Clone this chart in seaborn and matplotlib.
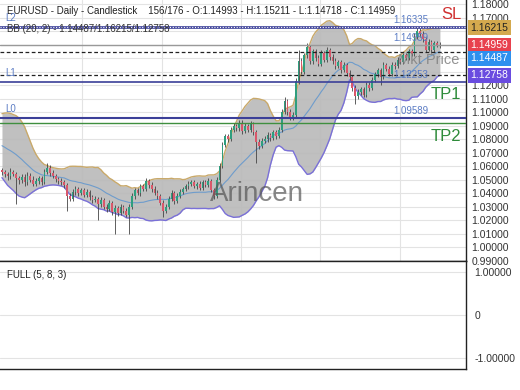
import matplotlib
matplotlib.use("Agg")
import matplotlib.pyplot as plt
import matplotlib.transforms as mtransforms
import seaborn as sns
import numpy as np
import pandas as pd

# closes before the visible window, only used to warm up the Bollinger bands
warmup_close = [1.0780, 1.0800, 1.0790, 1.0820, 1.0810, 1.0850, 1.0880, 1.0900, 1.0920, 1.0890,
                1.0850, 1.0780, 1.0720, 1.0680, 1.0650, 1.0620, 1.0600, 1.0580, 1.0560]

open_ = [1.0570, 1.0555, 1.0540, 1.0525, 1.0560, 1.0545, 1.0510, 1.0495, 1.0520, 1.0480,
         1.0530, 1.0500, 1.0470, 1.0490, 1.0510, 1.0480, 1.0560, 1.0590, 1.0550, 1.0530,
         1.0505, 1.0490, 1.0480, 1.0460, 1.0380, 1.0360, 1.0410, 1.0430, 1.0400, 1.0420,
         1.0390, 1.0410, 1.0370, 1.0350, 1.0360, 1.0320, 1.0350, 1.0300, 1.0280, 1.0330,
         1.0260, 1.0290, 1.0250, 1.0300, 1.0270, 1.0240, 1.0300, 1.0380, 1.0420, 1.0400,
         1.0450, 1.0430, 1.0490, 1.0460, 1.0430, 1.0400, 1.0380, 1.0330, 1.0270, 1.0300,
         1.0360, 1.0400, 1.0340, 1.0380, 1.0410, 1.0430, 1.0450, 1.0470, 1.0480, 1.0450,
         1.0470, 1.0440, 1.0480, 1.0460, 1.0490, 1.0420, 1.0380, 1.0500, 1.0600, 1.0760,
         1.0820, 1.0800, 1.0870, 1.0900, 1.0880, 1.0920, 1.0860, 1.0900, 1.0870, 1.0910,
         1.0850, 1.0780, 1.0750, 1.0790, 1.0800, 1.0830, 1.0810, 1.0850, 1.0820, 1.0870,
         1.1000, 1.1080, 1.1000, 1.0960, 1.0980, 1.1230, 1.1380, 1.1300, 1.1420, 1.1480,
         1.1380, 1.1450, 1.1400, 1.1360, 1.1440, 1.1390, 1.1460, 1.1410, 1.1380, 1.1340,
         1.1370, 1.1310, 1.1350, 1.1290, 1.1260, 1.1180, 1.1120, 1.1150, 1.1170, 1.1130,
         1.1200, 1.1180, 1.1240, 1.1280, 1.1310, 1.1260, 1.1350, 1.1320, 1.1280, 1.1350,
         1.1340, 1.1390, 1.1370, 1.1420, 1.1400, 1.1450, 1.1430, 1.1560, 1.1600, 1.1580,
         1.1540, 1.1460, 1.1520, 1.1460, 1.1510, 1.14993]

close = [1.0555, 1.0540, 1.0525, 1.0560, 1.0545, 1.0510, 1.0495, 1.0520, 1.0480, 1.0530,
         1.0500, 1.0470, 1.0490, 1.0510, 1.0480, 1.0560, 1.0590, 1.0550, 1.0530, 1.0505,
         1.0490, 1.0480, 1.0460, 1.0380, 1.0360, 1.0410, 1.0430, 1.0400, 1.0420, 1.0390,
         1.0410, 1.0370, 1.0350, 1.0360, 1.0320, 1.0350, 1.0300, 1.0280, 1.0330, 1.0260,
         1.0290, 1.0250, 1.0300, 1.0270, 1.0240, 1.0300, 1.0380, 1.0420, 1.0400, 1.0450,
         1.0430, 1.0490, 1.0460, 1.0430, 1.0400, 1.0380, 1.0330, 1.0270, 1.0300, 1.0360,
         1.0400, 1.0340, 1.0380, 1.0410, 1.0430, 1.0450, 1.0470, 1.0480, 1.0450, 1.0470,
         1.0440, 1.0480, 1.0460, 1.0490, 1.0420, 1.0380, 1.0500, 1.0600, 1.0760, 1.0820,
         1.0800, 1.0870, 1.0900, 1.0880, 1.0920, 1.0860, 1.0900, 1.0870, 1.0910, 1.0850,
         1.0780, 1.0750, 1.0790, 1.0800, 1.0830, 1.0810, 1.0850, 1.0820, 1.0870, 1.1000,
         1.1080, 1.1000, 1.0960, 1.0980, 1.1230, 1.1380, 1.1300, 1.1420, 1.1480, 1.1380,
         1.1450, 1.1400, 1.1360, 1.1440, 1.1390, 1.1460, 1.1410, 1.1380, 1.1340, 1.1370,
         1.1310, 1.1350, 1.1290, 1.1260, 1.1180, 1.1120, 1.1150, 1.1170, 1.1130, 1.1200,
         1.1180, 1.1240, 1.1280, 1.1310, 1.1260, 1.1350, 1.1320, 1.1280, 1.1350, 1.1340,
         1.1390, 1.1370, 1.1420, 1.1400, 1.1450, 1.1430, 1.1560, 1.1600, 1.1580, 1.1540,
         1.1460, 1.1520, 1.1460, 1.1510, 1.14993, 1.14959]

high = [1.0590, 1.0575, 1.0560, 1.0585, 1.0575, 1.0560, 1.0530, 1.0545, 1.0540, 1.0555,
        1.0550, 1.0525, 1.0510, 1.0530, 1.0525, 1.0580, 1.0620, 1.0605, 1.0570, 1.0545,
        1.0520, 1.0510, 1.0495, 1.0475, 1.0400, 1.0430, 1.0450, 1.0445, 1.0440, 1.0435,
        1.0430, 1.0425, 1.0390, 1.0380, 1.0375, 1.0370, 1.0365, 1.0320, 1.0350, 1.0345,
        1.0310, 1.0305, 1.0320, 1.0315, 1.0290, 1.0320, 1.0400, 1.0440, 1.0435, 1.0470,
        1.0465, 1.0510, 1.0505, 1.0480, 1.0450, 1.0420, 1.0395, 1.0350, 1.0320, 1.0380,
        1.0420, 1.0415, 1.0400, 1.0430, 1.0445, 1.0470, 1.0490, 1.0500, 1.0495, 1.0485,
        1.0490, 1.0500, 1.0495, 1.0510, 1.0505, 1.0440, 1.0520, 1.0625, 1.0780, 1.0840,
        1.0840, 1.0890, 1.0920, 1.0915, 1.0945, 1.0940, 1.0920, 1.0915, 1.0935, 1.0930,
        1.0870, 1.0800, 1.0810, 1.0820, 1.0850, 1.0845, 1.0870, 1.0865, 1.0890, 1.1020,
        1.1110, 1.1095, 1.1020, 1.1000, 1.1250, 1.1460, 1.1400, 1.1440, 1.1510, 1.1500,
        1.1470, 1.1470, 1.1420, 1.1460, 1.1455, 1.1480, 1.1475, 1.1430, 1.1400, 1.1390,
        1.1390, 1.1370, 1.1365, 1.1310, 1.1275, 1.1200, 1.1170, 1.1190, 1.1185, 1.1220,
        1.1220, 1.1260, 1.1300, 1.1330, 1.1325, 1.1370, 1.1365, 1.1340, 1.1370, 1.1370,
        1.1410, 1.1405, 1.1440, 1.1435, 1.1470, 1.1465, 1.1590, 1.1630, 1.1620, 1.1600,
        1.1560, 1.1540, 1.1535, 1.1530, 1.1525, 1.15211]

low = [1.0535, 1.0520, 1.0500, 1.0505, 1.0525, 1.0320, 1.0470, 1.0475, 1.0455, 1.0460,
       1.0480, 1.0450, 1.0455, 1.0470, 1.0460, 1.0465, 1.0540, 1.0530, 1.0510, 1.0485,
       1.0470, 1.0460, 1.0440, 1.0270, 1.0340, 1.0345, 1.0390, 1.0380, 1.0385, 1.0370,
       1.0375, 1.0350, 1.0330, 1.0335, 1.0200, 1.0300, 1.0285, 1.0260, 1.0265, 1.0240,
       1.0100, 1.0230, 1.0235, 1.0250, 1.0220, 1.0100, 1.0280, 1.0360, 1.0385, 1.0380,
       1.0415, 1.0415, 1.0440, 1.0410, 1.0385, 1.0360, 1.0310, 1.0220, 1.0255, 1.0285,
       1.0345, 1.0320, 1.0325, 1.0365, 1.0395, 1.0415, 1.0430, 1.0455, 1.0435, 1.0430,
       1.0425, 1.0425, 1.0445, 1.0445, 1.0405, 1.0360, 1.0365, 1.0485, 1.0585, 1.0740,
       1.0780, 1.0785, 1.0850, 1.0860, 1.0860, 1.0840, 1.0845, 1.0850, 1.0855, 1.0830,
       1.0620, 1.0730, 1.0735, 1.0770, 1.0780, 1.0790, 1.0795, 1.0800, 1.0805, 1.0855,
       1.0985, 1.0980, 1.0940, 1.0945, 1.0960, 1.1210, 1.1280, 1.1285, 1.1400, 1.1360,
       1.1360, 1.1380, 1.1340, 1.1345, 1.1370, 1.1375, 1.1390, 1.1360, 1.1320, 1.1325,
       1.1290, 1.1295, 1.1270, 1.1240, 1.1160, 1.1060, 1.1100, 1.1130, 1.1110, 1.1115,
       1.1160, 1.1165, 1.1220, 1.1260, 1.1200, 1.1245, 1.1305, 1.1265, 1.1265, 1.1320,
       1.1325, 1.1355, 1.1355, 1.1385, 1.1385, 1.1415, 1.1415, 1.1540, 1.1560, 1.1520,
       1.1445, 1.1450, 1.1440, 1.1445, 1.1480, 1.14718]

# horizontal levels
sl_level = 1.16335
l1_level = 1.12253
l0_level = 1.09589
tp2_level = 1.09200
price_ticks = [0.99, 1.00, 1.01, 1.02, 1.03, 1.04, 1.05, 1.06, 1.07, 1.08, 1.09,
               1.10, 1.11, 1.12, 1.13, 1.14, 1.15, 1.16, 1.17, 1.18]
hidden_ticks = [1.13, 1.14, 1.15, 1.16]   # covered by the price boxes
osc_ticks = [1.0, 0.0, -1.0]
osc_tick_labels = ["1.00000", "0", "-1.00000"]
bb_labels = ["1.14487", "1.16215", "1.12758"]   # mid / upper / lower, as printed

# Bollinger bands (20, 2)
all_close = pd.Series(warmup_close + close)
n = len(close)
bb_mid = all_close.rolling(20).mean().iloc[-n:].to_numpy()
bb_std = all_close.rolling(20).std(ddof=0).iloc[-n:].to_numpy()
bb_up = bb_mid + 2 * bb_std
bb_lo = bb_mid - 2 * bb_std

df = pd.DataFrame({"i": np.arange(n), "open": open_, "high": high, "low": low,
                   "close": close, "mid": bb_mid, "up": bb_up, "lo": bb_lo})
last_price = close[-1]

sns.set_style("white")
plt.rcParams["font.family"] = ["Liberation Sans", "DejaVu Sans"]

fig = plt.figure(figsize=(5.2, 3.9), dpi=100)
ax = fig.add_axes([0.0, 0.331, 0.896, 0.669])
ax2 = fig.add_axes([0.0, 0.054, 0.896, 0.277])

# band
ax.fill_between(df["i"], df["lo"], df["up"], color="#b9b9b9", alpha=0.9, lw=0, zorder=1)
sns.lineplot(data=df, x="i", y="up", ax=ax, color="#c9a96a", lw=1.0, zorder=2)
sns.lineplot(data=df, x="i", y="lo", ax=ax, color="#7a70d8", lw=1.0, zorder=2)
sns.lineplot(data=df, x="i", y="mid", ax=ax, color="#6e9ccc", lw=0.8, zorder=2)

# candles
up = df["close"] >= df["open"]
ax.vlines(df["i"], df["low"], df["high"], color="#444444", lw=0.6, zorder=3)
body_lo = np.minimum(df["open"], df["close"])
body_h = np.maximum(np.abs(df["close"] - df["open"]), 0.0003)
ax.bar(df["i"], body_h, bottom=body_lo, width=0.6,
       color=np.where(up, "#2f9e7e", "#d9576a"), lw=0, zorder=4)

# level lines
ax.axhline(sl_level, color="#3b3f98", lw=1.2, zorder=5)
ax.axhline(bb_up[-1], color="#3b3f98", lw=1.2, zorder=5)
ax.axhline((sl_level + bb_up[-1]) / 2, color="white", lw=0.8, ls=(0, (1, 1.5)), zorder=6)
ax.axhline(last_price, color="#999999", lw=1.0, zorder=5)
ax.axhline(bb_mid[-1], color="#222222", lw=0.9, ls=(0, (3, 2)), zorder=5)
ax.axhline(bb_lo[-1], color="#222222", lw=0.9, ls=(0, (3, 2)), zorder=5)
ax.axhline(l1_level, color="#3b3f98", lw=1.2, zorder=5)
ax.axhline(l0_level, color="#3b3f98", lw=1.5, zorder=5)
ax.axhline(tp2_level, color="#3f8f3f", lw=1.0, zorder=5)

ax.set_xlim(-0.7, 164.2)
ax.set_ylim(0.9898, 1.1831)
ax.set_xlabel("")
ax.set_ylabel("")
ax.set_xticks([28.3, 56.6, 84.6, 112.5, 140.8])
ax.set_xticklabels([])
ax.set_yticks(price_ticks)
ax.set_yticklabels(["" if round(t, 2) in hidden_ticks else f"{t:.5f}" for t in price_ticks])
ax.yaxis.tick_right()
ax.tick_params(axis="both", length=0, labelsize=7.5, colors="#333333", pad=4)
ax.grid(True, color="#e3e3e3", lw=0.8)
ax.set_axisbelow(True)
for s in ["top", "left"]:
    ax.spines[s].set_visible(False)
for s in ["right", "bottom"]:
    ax.spines[s].set_color("#222222")
    ax.spines[s].set_linewidth(1.0)

# texts
ax.text(0.015, 0.945, "EURUSD - Daily - Candlestick    156/176 - O:1.14993 - H:1.15211 - L:1.14718 - C:1.14959",
        transform=ax.transAxes, fontsize=7, color="#222222", zorder=8)
ax.text(0.015, 0.876, "BB (20, 2) - " + "/".join(bb_labels),
        transform=ax.transAxes, fontsize=7, color="#333333", zorder=8)
trans = mtransforms.blended_transform_factory(ax.transAxes, ax.transData)
for lab, val in [("L2", sl_level), ("L1", l1_level), ("L0", l0_level)]:
    ax.text(0.012, val + 0.0045, lab, transform=trans, fontsize=7, color="#5b7cc4", zorder=8)
for lab, val in [("1.16335", sl_level), ("1.14959", last_price), ("1.12253", l1_level), ("1.09589", l0_level)]:
    ax.text(0.845, val + 0.003, lab, transform=trans, fontsize=7, color="#5b7cc4", zorder=8)
ax.text(0.948, sl_level + 0.0055, "SL", transform=trans, fontsize=12, color="#d03030", zorder=8)
ax.text(0.925, l1_level - 0.013, "TP1", transform=trans, fontsize=12, color="#2e8b3a", zorder=8)
ax.text(0.925, tp2_level - 0.013, "TP2", transform=trans, fontsize=12, color="#2e8b3a", zorder=8)
ax.text(0.987, 1.1355, "Mkt Price", transform=trans, fontsize=10.5, color="#808080",
        alpha=0.85, ha="right", zorder=7)
ax.text(0.45, 1.0345, "Arincen", transform=trans, fontsize=20, color="#555555",
        alpha=0.7, zorder=7)

# price boxes on the right axis (the mid band box is nudged down so boxes do not collide)
for val, txt, bg, fg in [(bb_up[-1], bb_labels[1], "#d4a94e", "#222222"),
                         (last_price, "1.14959", "#e8414e", "white"),
                         (bb_mid[-1] - 0.0050, bb_labels[0], "#2e90ef", "white"),
                         (bb_lo[-1], bb_labels[2], "#6a4ce0", "white")]:
    ax.text(1.010, val, txt, transform=trans, fontsize=7.5, color=fg, va="center",
            bbox=dict(boxstyle="square,pad=0.25", fc=bg, ec="none"), clip_on=False, zorder=9)

# oscillator panel (empty)
ax2.set_xlim(-0.7, 164.2)
ax2.set_ylim(-1.26, 1.26)
ax2.set_xticks([])
ax2.set_yticks(osc_ticks)
ax2.set_yticklabels(osc_tick_labels)
ax2.yaxis.tick_right()
ax2.tick_params(axis="both", length=0, labelsize=7.5, colors="#333333", pad=6)
ax2.grid(True, axis="y", color="#e3e3e3", lw=0.8)
for s in ["top", "right", "bottom"]:
    ax2.spines[s].set_color("#222222")
    ax2.spines[s].set_linewidth(1.0)
ax2.spines["left"].set_visible(False)
ax2.text(0.015, 0.84, "FULL (5, 8, 3)", transform=ax2.transAxes, fontsize=7, color="#222222")

fig.savefig("out.png", dpi=100)
